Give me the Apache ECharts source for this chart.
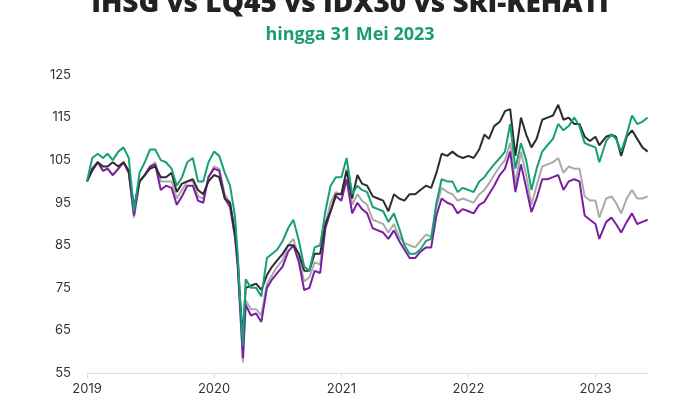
<!DOCTYPE html>
<html>
<head>
<meta charset="utf-8">
<script src="https://cdn.jsdelivr.net/npm/echarts@6/dist/echarts.min.js"></script>
<style>html,body{margin:0;padding:0;background:#fff;}#c{width:700px;height:400px;}</style>
</head>
<body>
<div id="c"></div>
<script>
const dates = [
'2019-01-01','2019-01-16','2019-02-01','2019-02-16','2019-03-01','2019-03-16','2019-04-01','2019-04-16','2019-05-01','2019-05-16','2019-06-01','2019-06-16',
'2019-07-01','2019-07-16','2019-08-01','2019-08-16','2019-09-01','2019-09-16','2019-10-01','2019-10-16','2019-11-01','2019-11-16','2019-12-01','2019-12-16',
'2020-01-01','2020-01-16','2020-02-01','2020-02-16','2020-03-01','2020-03-09','2020-03-16','2020-03-24','2020-04-01','2020-04-16','2020-05-01','2020-05-16',
'2020-06-01','2020-06-16','2020-07-01','2020-07-16','2020-08-01','2020-08-16','2020-09-01','2020-09-16','2020-10-01','2020-10-16','2020-11-01','2020-11-16',
'2020-12-01','2020-12-16',
'2021-01-01','2021-01-16','2021-02-01','2021-02-16','2021-03-01','2021-03-16','2021-04-01','2021-04-16','2021-05-01','2021-05-16','2021-06-01','2021-06-16',
'2021-07-01','2021-07-16','2021-08-01','2021-08-16','2021-09-01','2021-09-16','2021-10-01','2021-10-16','2021-11-01','2021-11-16','2021-12-01','2021-12-16',
'2022-01-01','2022-01-16','2022-02-01','2022-02-16','2022-03-01','2022-03-16','2022-04-01','2022-04-16','2022-05-01','2022-05-16','2022-06-01','2022-06-16',
'2022-07-01','2022-07-16','2022-08-01','2022-08-16','2022-09-01','2022-09-16','2022-10-01','2022-10-16','2022-11-01','2022-11-16','2022-12-01','2022-12-16',
'2023-01-01','2023-01-12','2023-02-01','2023-02-16','2023-03-01','2023-03-16','2023-04-01','2023-04-16','2023-05-01','2023-05-16','2023-05-31'
];
const ihsg = [
100,102.5,104.5,103.5,103.5,104.5,103.5,104.5,102.5,94,100,101.5,103,103.5,101,101,102,97.5,99.5,100,100.5,98,97,100,
101.5,101,96,95,88,82,72,63.5,75,75.5,76,74.5,78,80,81.5,83,85,85,83,79,79,83,83,90,93,97,
97,102.5,96,101.5,99.5,99,96.5,96,95.5,93,97,96,95.5,97,97,98,99,98.5,102,106.5,106,107,106,105.5,
106,105.5,107.5,111,110,113,114,116.5,117,106,115,111,108,110,114.5,115,115.5,118,114.5,115,113.5,113.5,110.5,109.5,
110.5,108.5,110.5,111,110.5,106,110.5,112,110,108,107
];
const lq45 = [
100,103,104.5,102.5,103,101.5,103,104.5,102,91.5,100,101.5,103.5,104.5,100,100,100,96,98,100,100,96.5,96,101,
103.5,103,97,95,88,81,71,57.5,72,70,70,68.5,76,78,80,81.5,85,86.5,82,76.5,77.5,81,80.5,90,95,97.5,
97,103,94.5,97,95.5,94.5,91,90.5,90,88,90,87,85.5,85,84.5,86,87.5,87,94,98.5,97.5,97,95.5,96,
95.5,95,97,98,99.5,101.5,103.5,105,109,99.5,107,101.5,94.5,99,103.5,104,104.5,105.5,102,103.5,103,103,96.5,95.5,
95.5,91.5,96,96.5,95,92.5,96,98,96,96,96.5
];
const idx30 = [
100,103,104.5,102.5,103,101.5,103,104.5,102,92,100,101.5,103.5,104,98,99,98.5,94.5,96.5,99,99,95.5,95,101,
103,102.5,96,94,87,80,70,58.5,71,68.5,69,67,75,77,78.5,80,83.5,85,81,74.5,75,79,78.5,89,93,96.5,
95.5,100.5,92.5,95,93.5,92.5,89,88.5,88,86.5,88.5,86,84,82,82,83.5,84.5,84.5,92,96,95,94.5,92.5,93.5,
93,92.5,94.5,95.2,97,99,101.5,103,107,97.5,104,98.5,92.8,96,100.5,100.5,101,101.5,98,100,100.5,100,92,91,
90,86.5,90.5,91.5,90,88,90.5,92.5,90,90.5,91
];
const srikehati = [
100,105.5,106.5,105.5,106.5,105,107,108,105.5,93,102,104.5,107.5,107.5,105,104.5,103,99,101,104.5,105.5,100,100,104.5,
107,106,102,99,92,83,72,61.5,77,75,75,73,82,83,84,86,89,91,86,80,79,84.5,85,93,99,101,
101,105.5,97,99,98,97.5,94,93.5,93,90.5,92.5,89,85,83,83,84,86,86.5,95,100.5,100,100,97.5,98.5,
98,97.5,100,101,102.5,104,105.5,107,113.5,103,109,105,98,103,107,108.5,110,113.5,112,113,115,113,109,108.5,
108,104.5,109.5,111,110,107,111,115.5,113.5,114,115
];
const yTicks = {min: 55, max: 125, interval: 10};
const title = 'IHSG vs LQ45 vs IDX30 vs SRI-KEHATI';
const subtitle = 'hingga 31 Mei 2023';

function pairs(vals){ return vals.map((v,i)=>[dates[i], v]); }

const chart = echarts.init(document.getElementById('c'), null, {renderer:'canvas'});
const font = 'Inter, "Open Sans", sans-serif';
chart.setOption({
  animation: false,
  backgroundColor: '#fff',
  title: [
    {text: title, left: 'center', top: -15, textStyle: {fontFamily: '"Open Sans", sans-serif', fontWeight: 800, fontSize: 28, color: '#222'}},
    {text: subtitle, left: 'center', top: 21, textStyle: {fontFamily: '"Open Sans", sans-serif', fontWeight: 700, fontSize: 18, color: '#1a9e6e'}}
  ],
  grid: {left: 87, right: 52, top: 75, bottom: 27},
  xAxis: {
    type: 'time', min: '2019-01-01', max: '2023-06-01', splitNumber: 4,
    axisLine: {lineStyle: {color: '#dddddd'}},
    axisTick: {show: true, length: 5, lineStyle: {color: '#dddddd'}},
    splitLine: {show: false},
    axisLabel: {formatter: '{yyyy}', color: '#333', fontFamily: font, fontSize: 13, margin: 10, hideOverlap: true}
  },
  yAxis: {
    type: 'value', min: yTicks.min, max: yTicks.max, interval: yTicks.interval,
    axisLine: {show: false}, axisTick: {show: false}, splitLine: {show: false},
    axisLabel: {color: '#333', fontFamily: font, fontSize: 13, margin: 16}
  },
  series: [
    {name: 'LQ45', type: 'line', data: pairs(lq45), showSymbol: false, lineStyle: {color: '#aaaaaa', width: 2}, itemStyle: {color: '#aaaaaa'}},
    {name: 'IDX30', type: 'line', data: pairs(idx30), showSymbol: false, lineStyle: {color: '#7b1fa2', width: 2}, itemStyle: {color: '#7b1fa2'}},
    {name: 'IHSG', type: 'line', data: pairs(ihsg), showSymbol: false, lineStyle: {color: '#2d2d2d', width: 2}, itemStyle: {color: '#2d2d2d'}},
    {name: 'SRI-KEHATI', type: 'line', data: pairs(srikehati), showSymbol: false, lineStyle: {color: '#16a077', width: 2}, itemStyle: {color: '#16a077'}}
  ]
});
</script>
</body>
</html>
